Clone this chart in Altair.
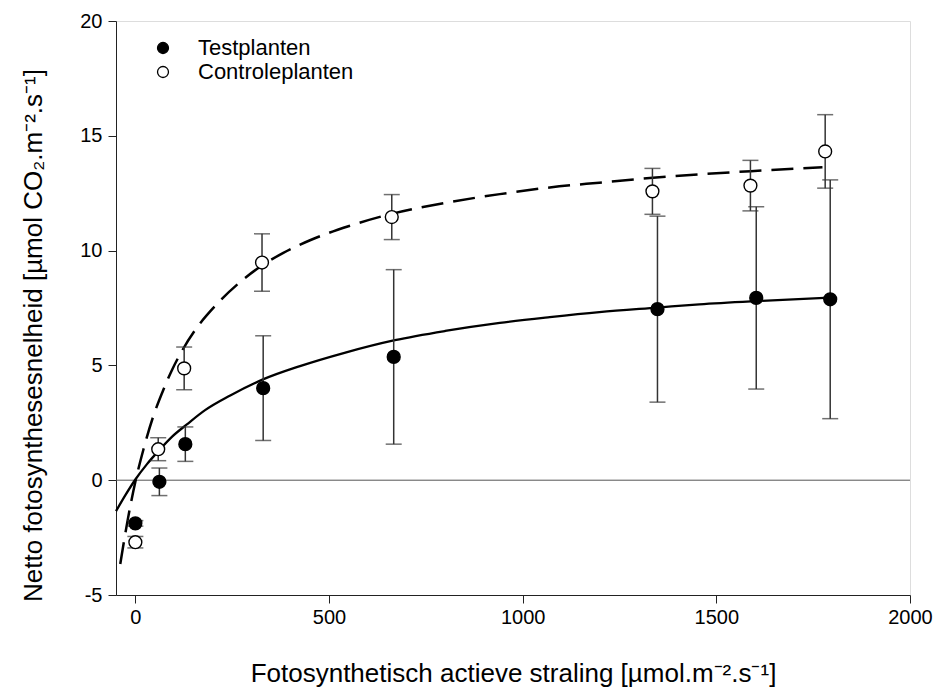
import altair as alt
import pandas as pd

# ---- data ----
series_names = ["Testplanten", "Controleplanten"]

test_x = [0, 62, 129, 330, 667, 1348, 1603, 1794]
test_y = [-1.88, -0.07, 1.57, 4.01, 5.37, 7.45, 7.94, 7.88]
test_err = [0.12, 0.6, 0.75, 2.28, 3.8, 4.05, 3.97, 5.2]

ctrl_x = [0, 59, 126, 327, 662, 1335, 1588, 1781]
ctrl_y = [-2.7, 1.35, 4.87, 9.48, 11.46, 12.58, 12.83, 14.32]
ctrl_err = [0.25, 0.5, 0.93, 1.25, 0.98, 1.0, 1.1, 1.6]

fit_test_x = [-50, -25, 0, 30, 60, 95, 133, 180, 245, 331, 425, 540, 670, 800,
              941, 1070, 1198, 1349, 1456, 1600, 1794]
fit_test_y = [-1.35, -0.63, 0.03, 0.7, 1.28, 1.9, 2.43, 3.05, 3.69, 4.4, 4.97, 5.55,
              6.1, 6.5, 6.85, 7.1, 7.32, 7.52, 7.66, 7.8, 7.95]

fit_ctrl_x = [-39, -20, 0, 21, 45, 69, 94, 120, 168, 202, 271, 326, 382, 451,
              550, 661, 800, 941, 1070, 1198, 1336, 1456, 1589, 1774]
fit_ctrl_y = [-3.65, -1.75, -0.07, 1.35, 2.72, 3.8, 4.78, 5.62, 6.85, 7.52, 8.64,
              9.34, 9.9, 10.45, 11.06, 11.6, 12.08, 12.46, 12.75, 12.96, 13.17,
              13.32, 13.46, 13.63]

x_ticks = [0, 500, 1000, 1500, 2000]
y_ticks = [-5, 0, 5, 10, 15, 20]

FONT = "Liberation Sans"

# ---- tables ----
pts = pd.DataFrame({
    "x": test_x + ctrl_x,
    "y": test_y + ctrl_y,
    "err": test_err + ctrl_err,
    "series": [series_names[0]] * len(test_x) + [series_names[1]] * len(ctrl_x),
})
pts["lo"] = pts["y"] - pts["err"]
pts["hi"] = pts["y"] + pts["err"]

fit_t = pd.DataFrame({"x": fit_test_x, "y": fit_test_y})
fit_c = pd.DataFrame({"x": fit_ctrl_x, "y": fit_ctrl_y})

xscale = alt.Scale(domain=[-50, 2000], nice=False, zero=False)
yscale = alt.Scale(domain=[-5, 20], nice=False, zero=False)

x_axis = alt.Axis(
    values=x_ticks, grid=False, tickSize=8, labelFontSize=20, labelPadding=4,
    labelExpr="'' + datum.value", labelFlush=False,
    labelFont=FONT, titleFont=FONT, titleFontSize=26, titleFontWeight="normal",
    domainColor="#222", tickColor="#222", labelColor="#000", titleColor="#000",
    title="Fotosynthetisch actieve straling [µmol.m⁻².s⁻¹]",
    titleBaseline="alphabetic", titleY=86,
)
y_axis = alt.Axis(
    values=y_ticks, grid=False, tickSize=8, labelFontSize=20, labelPadding=6,
    labelExpr="'' + datum.value", labelFlush=False,
    labelFont=FONT, titleFont=FONT, titleFontSize=26, titleFontWeight="normal",
    domainColor="#222", tickColor="#222", labelColor="#000", titleColor="#000",
    title="Netto fotosynthesesnelheid [µmol CO₂.m⁻².s⁻¹]",
    titleBaseline="alphabetic", titleX=-75, titleY=314, titleAngle=270,
)

X = alt.X("x:Q", scale=xscale, axis=x_axis)
Y = alt.Y("y:Q", scale=yscale, axis=y_axis)

zero = alt.Chart(pd.DataFrame({"y": [0]})).mark_rule(
    color="#555", strokeWidth=1
).encode(y=alt.Y("y:Q", scale=yscale))

line_t = alt.Chart(fit_t).mark_line(
    color="black", strokeWidth=2.3, interpolate="monotone"
).encode(x=alt.X("x:Q", scale=xscale), y=alt.Y("y:Q", scale=yscale))

line_c = alt.Chart(fit_c).mark_line(
    color="black", strokeWidth=2.5, strokeDash=[22, 10], interpolate="monotone"
).encode(x=alt.X("x:Q", scale=xscale), y=alt.Y("y:Q", scale=yscale))

err_rule = alt.Chart(pts).mark_rule(color="#333", strokeWidth=1.5).encode(
    x=alt.X("x:Q", scale=xscale),
    y=alt.Y("lo:Q", scale=yscale),
    y2="hi:Q",
)
cap_lo = alt.Chart(pts).mark_tick(
    color="#333", orient="horizontal", size=16, thickness=1.5
).encode(x=alt.X("x:Q", scale=xscale), y=alt.Y("lo:Q", scale=yscale))
cap_hi = alt.Chart(pts).mark_tick(
    color="#333", orient="horizontal", size=16, thickness=1.5
).encode(x=alt.X("x:Q", scale=xscale), y=alt.Y("hi:Q", scale=yscale))

points = alt.Chart(pts).mark_point(
    shape="circle", filled=True, size=165, stroke="black", strokeWidth=1.4, opacity=1
).encode(
    x=X, y=Y,
    fill=alt.Fill(
        "series:N",
        scale=alt.Scale(domain=series_names, range=["black", "white"]),
        sort=series_names,
        legend=alt.Legend(
            orient="none", legendX=36, legendY=16, title=None, padding=0,
            symbolType="circle", symbolSize=120, symbolStrokeColor="black",
            symbolStrokeWidth=1.3, symbolOpacity=1, labelFontSize=22, labelFont=FONT,
            labelColor="#000", labelOffset=24, rowPadding=2,
        ),
    ),
)

chart = alt.layer(zero, line_t, line_c, err_rule, cap_lo, cap_hi, points).properties(
    width=794, height=574,
    autosize=alt.AutoSizeParams(type="none"),
    padding={"left": 116, "top": 21, "right": 26, "bottom": 95},
).configure_view(stroke=None).configure(background="white")

chart.save("out.html", embed_options={"renderer": "svg", "actions": False})
